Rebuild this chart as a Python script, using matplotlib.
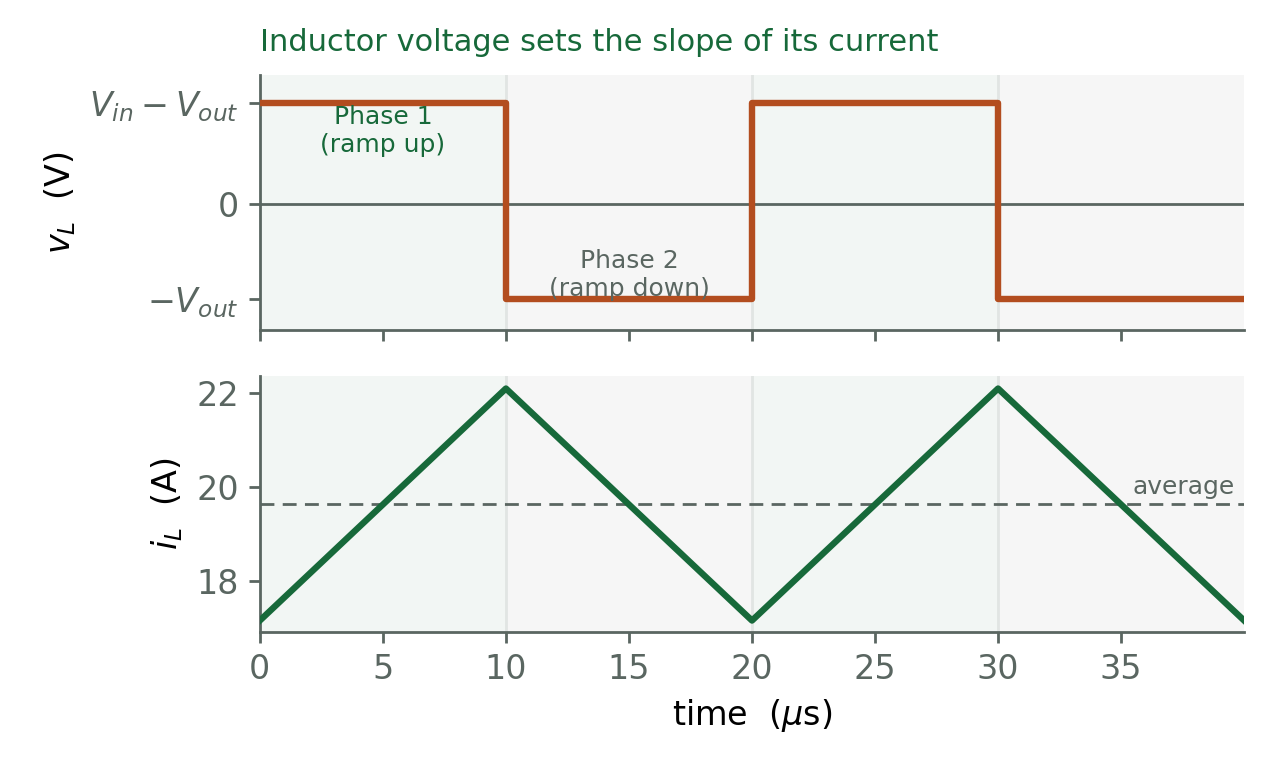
import numpy as np
import matplotlib
matplotlib.use('Agg')
import matplotlib.pyplot as plt

# switching instants (us) and waveforms
t_edges = [0, 10, 20, 30, 40]
v_levels = [1.0, -0.95, 1.0, -0.95, -0.95]      # v_L, normalised
i_peaks = [17.15, 22.1, 17.15, 22.1, 17.15]     # i_L (A)
i_avg = 19.63
x_ticks = [0, 5, 10, 15, 20, 25, 30, 35]
v_ticks = [-0.95, 0, 1.0]
v_ticklabels = [r'$-V_{out}$', '0', r'$V_{in}-V_{out}$']
i_ticks = [18, 20, 22]

green = '#17693a'
rust = '#b34d1f'
gray = '#5a6661'
band_on = '#f2f6f4'
band_off = '#f6f6f6'

plt.rcParams['font.family'] = ['DejaVu Sans']

fig, (ax1, ax2) = plt.subplots(2, 1, figsize=(6.4, 3.9), dpi=200, sharex=True)
fig.subplots_adjust(left=0.203, right=0.972, top=0.904, bottom=0.19, hspace=0.18)

for ax in (ax1, ax2):
    ax.set_facecolor('white')
    for k in range(len(t_edges) - 1):
        ax.axvspan(t_edges[k], t_edges[k + 1], color=band_on if k % 2 == 0 else band_off,
                   lw=0, zorder=0)
    for t in t_edges[1:-1]:
        ax.axvline(t, color='#e1e5e3', lw=1.0, zorder=1)
    for s in ['top', 'right']:
        ax.spines[s].set_visible(False)
    for s in ['left', 'bottom']:
        ax.spines[s].set_color(gray)
        ax.spines[s].set_linewidth(1.0)
    ax.tick_params(colors=gray, labelsize=12, width=1.0, length=4)
    ax.set_xlim(0, 40)
    ax.set_xticks(x_ticks)

# top: inductor voltage
ax1.axhline(0, color=gray, lw=1.0, zorder=2)
ax1.step(t_edges, v_levels, where='post', color=rust, lw=2.3, zorder=3)
ax1.set_ylim(-1.26, 1.28)
ax1.set_yticks(v_ticks)
ax1.set_yticklabels(v_ticklabels)
ax1.set_ylabel(r'$v_L$  (V)', fontsize=12, color='black')
ax1.tick_params(axis='x', labelbottom=False)
ax1.text(5, 0.72, 'Phase 1\n(ramp up)', ha='center', va='center', color=green,
         fontsize=9, linespacing=1.2)
ax1.text(15, -0.71, 'Phase 2\n(ramp down)', ha='center', va='center', color=gray,
         fontsize=9, linespacing=1.2)
ax1.set_title('Inductor voltage sets the slope of its current', loc='left',
              color=green, fontsize=11, pad=8.5)

# bottom: inductor current
ax2.plot(t_edges, i_peaks, color=green, lw=2.3, zorder=3)
ax2.axhline(i_avg, color=gray, lw=1.0, ls=(0, (5, 3)), zorder=2)
ax2.text(39.6, i_avg + 0.12, 'average', ha='right', va='bottom', color=gray, fontsize=9)
ax2.set_ylim(16.91, 22.36)
ax2.set_yticks(i_ticks)
ax2.set_ylabel(r'$i_L$  (A)', fontsize=12, color='black')
ax2.set_xlabel(r'time  ($\mu$s)', fontsize=12, color='black')

fig.savefig('out.png', dpi=200)
